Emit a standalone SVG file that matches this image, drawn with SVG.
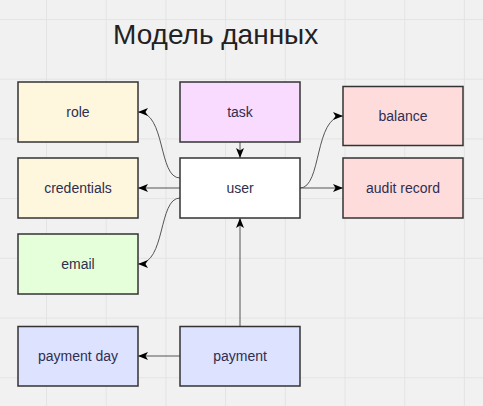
<svg xmlns="http://www.w3.org/2000/svg" width="483" height="406" viewBox="0 0 483 406">
<defs>
<style>
.bg{fill:#f1f1f1}
.grid line{stroke:#e4e4e4;stroke-width:1}
.node rect{stroke:#333;stroke-width:1.5}
.node text{font-family:"Liberation Sans",Arial,sans-serif;font-size:14px;fill:#2e2e50;text-anchor:middle;dominant-baseline:central}
.title{font-family:"Liberation Sans",Arial,sans-serif;font-size:28px;fill:#222}
.edges path{fill:none;stroke:#555;stroke-width:1;marker-end:url(#arr)}
</style>
<marker id="arr" viewBox="0 0 10 8" refX="10" refY="4" markerWidth="10" markerHeight="8" markerUnits="userSpaceOnUse" orient="auto">
<path d="M0,0 L10,4 L0,8 L2.5,4 Z" fill="#000"/>
</marker>
</defs>
<rect class="bg" x="0" y="0" width="483" height="406"/>
<g class="grid">
<line x1="46.5" y1="0" x2="46.5" y2="406"/>
<line x1="106.2" y1="0" x2="106.2" y2="406"/>
<line x1="165.9" y1="0" x2="165.9" y2="406"/>
<line x1="225.6" y1="0" x2="225.6" y2="406"/>
<line x1="285.3" y1="0" x2="285.3" y2="406"/>
<line x1="345" y1="0" x2="345" y2="406"/>
<line x1="404.7" y1="0" x2="404.7" y2="406"/>
<line x1="464.4" y1="0" x2="464.4" y2="406"/>
<line x1="0" y1="19.5" x2="483" y2="19.5"/>
<line x1="0" y1="79.2" x2="483" y2="79.2"/>
<line x1="0" y1="138.9" x2="483" y2="138.9"/>
<line x1="0" y1="198.6" x2="483" y2="198.6"/>
<line x1="0" y1="258.3" x2="483" y2="258.3"/>
<line x1="0" y1="318" x2="483" y2="318"/>
<line x1="0" y1="377.7" x2="483" y2="377.7"/>
</g>
<text class="title" x="113" y="44">Модель данных</text>
<g class="edges">
<path d="M240,142 L240,158"/>
<path d="M180,178 C158,178 166,112 138,112"/>
<path d="M180,188 L138,188"/>
<path d="M180,198 C158,198 166,264 138,264"/>
<path d="M300,188 C322,188 314,116 343,116"/>
<path d="M300,188 L343,188"/>
<path d="M240,326.5 L240,218"/>
<path d="M180,356 L138,356"/>
</g>
<g id="role" class="node"><rect x="18" y="82" width="120" height="60" fill="#fff7dd"/><text x="78" y="112">role</text></g>
<g id="credentials" class="node"><rect x="18" y="158" width="120" height="60" fill="#fff7dd"/><text x="78" y="188">credentials</text></g>
<g id="email" class="node"><rect x="18" y="234" width="120" height="60" fill="#e6ffdb"/><text x="78" y="264">email</text></g>
<g id="task" class="node"><rect x="180" y="82" width="120" height="60" fill="#f8dbff"/><text x="240" y="112">task</text></g>
<g id="user" class="node"><rect x="180" y="158" width="120" height="60" fill="#ffffff"/><text x="240" y="188">user</text></g>
<g id="balance" class="node"><rect x="343" y="86.5" width="120" height="59" fill="#ffdcdc"/><text x="403" y="116">balance</text></g>
<g id="audit-record" class="node"><rect x="343" y="158" width="120" height="60" fill="#ffdcdc"/><text x="403" y="188">audit record</text></g>
<g id="payment-day" class="node"><rect x="18" y="326.5" width="120" height="59.5" fill="#dde2ff"/><text x="78" y="356">payment day</text></g>
<g id="payment" class="node"><rect x="180" y="326.5" width="120" height="59.5" fill="#dde2ff"/><text x="240" y="356">payment</text></g>
</svg>
